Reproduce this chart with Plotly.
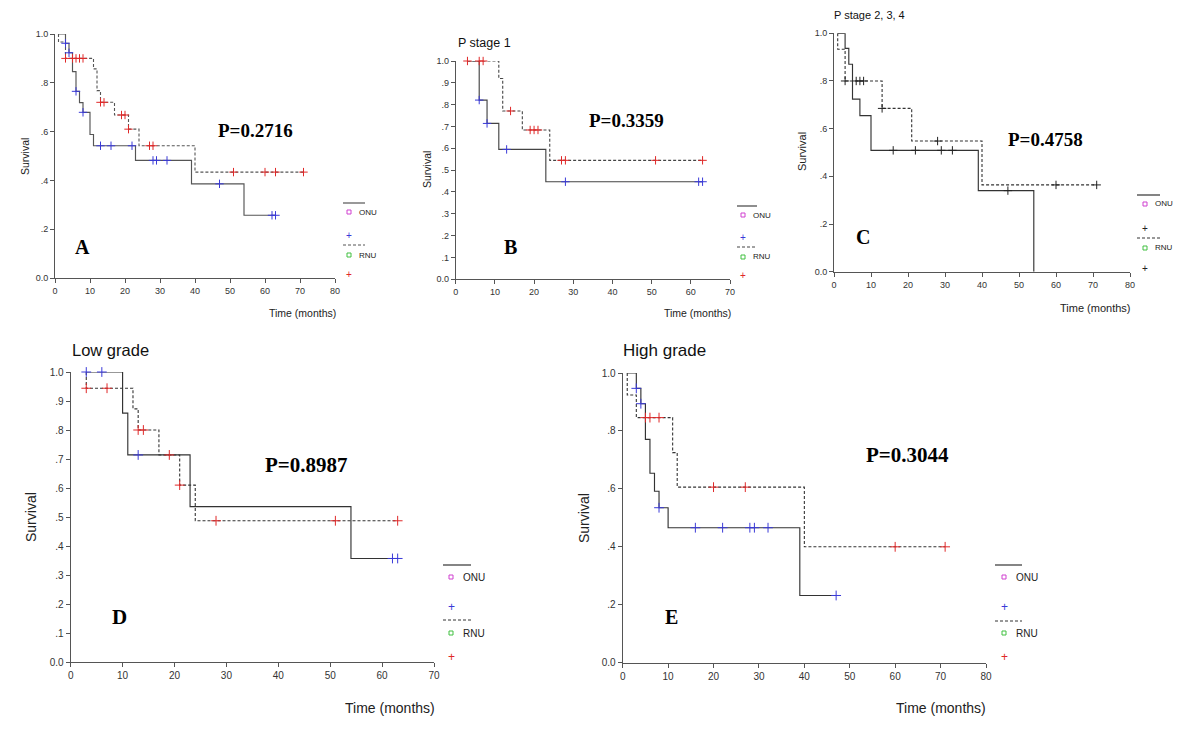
import plotly.graph_objects as go

# ---------------- data ----------------
# Step curves: x = start, event times..., end ; y = survival from x[i] onward
A_onu_x = [1, 3, 4, 5, 6, 7, 8, 10, 11, 23, 39, 54, 63]
A_onu_y = [1.0, 0.962, 0.923, 0.846, 0.765, 0.719, 0.679, 0.588, 0.542, 0.482, 0.386, 0.257, 0.257]
A_onu_cx = [3, 4, 6, 8, 13, 16, 22, 28, 29, 32, 47, 62, 63]
A_onu_cy = [0.962, 0.923, 0.765, 0.679, 0.542, 0.542, 0.542, 0.482, 0.482, 0.482, 0.386, 0.257, 0.257]
A_rnu_x = [1, 1, 3, 11, 12, 13, 17, 21, 24, 40, 71]
A_rnu_y = [1.0, 0.967, 0.90, 0.857, 0.768, 0.72, 0.668, 0.61, 0.542, 0.434, 0.434]
A_rnu_cx = [3, 5, 6, 7, 8, 13, 14, 19, 20, 21, 27, 28, 51, 60, 63, 71]
A_rnu_cy = [0.90, 0.90, 0.90, 0.90, 0.90, 0.72, 0.72, 0.668, 0.668, 0.61, 0.542, 0.542, 0.434, 0.434, 0.434, 0.434]

B_onu_x = [3, 6, 8, 11, 23, 63]
B_onu_y = [1.0, 0.821, 0.714, 0.595, 0.447, 0.447]
B_onu_cx = [6, 8, 13, 28, 62, 63]
B_onu_cy = [0.821, 0.714, 0.595, 0.447, 0.447, 0.447]
B_rnu_x = [3, 11, 12, 17, 24, 63]
B_rnu_y = [1.0, 0.92, 0.771, 0.684, 0.545, 0.545]
B_rnu_cx = [3, 6, 7, 14, 19, 20, 21, 27, 28, 51, 63]
B_rnu_cy = [1.0, 1.0, 1.0, 0.771, 0.684, 0.684, 0.684, 0.545, 0.545, 0.545, 0.545]

C_onu_x = [1, 3, 4, 5, 7, 10, 39, 54]
C_onu_y = [1.0, 0.937, 0.87, 0.724, 0.655, 0.509, 0.34, 0.0]
C_onu_cx = [16, 22, 29, 32, 47]
C_onu_cy = [0.509, 0.509, 0.509, 0.509, 0.34]
C_rnu_x = [1, 1, 3, 13, 21, 40, 71]
C_rnu_y = [1.0, 0.933, 0.80, 0.685, 0.548, 0.364, 0.364]
C_rnu_cx = [3, 6, 7, 8, 13, 28, 60, 71]
C_rnu_cy = [0.80, 0.80, 0.80, 0.80, 0.685, 0.548, 0.364, 0.364]

D_onu_x = [3, 10, 11, 23, 54, 63]
D_onu_y = [1.0, 0.858, 0.714, 0.536, 0.357, 0.357]
D_onu_cx = [3, 6, 13, 62, 63]
D_onu_cy = [1.0, 1.0, 0.714, 0.357, 0.357]
D_rnu_x = [3, 3, 12, 13, 17, 21, 24, 63]
D_rnu_y = [1.0, 0.944, 0.873, 0.80, 0.714, 0.61, 0.487, 0.487]
D_rnu_cx = [3, 7, 13, 14, 19, 21, 28, 51, 63]
D_rnu_cy = [0.944, 0.944, 0.80, 0.80, 0.714, 0.61, 0.487, 0.487, 0.487]

E_onu_x = [1, 3, 4, 5, 6, 7, 8, 10, 39, 47]
E_onu_y = [1.0, 0.947, 0.894, 0.771, 0.654, 0.592, 0.535, 0.466, 0.232, 0.232]
E_onu_cx = [3, 4, 8, 16, 22, 28, 29, 32, 47]
E_onu_cy = [0.947, 0.894, 0.535, 0.466, 0.466, 0.466, 0.466, 0.466, 0.232]
E_rnu_x = [1, 1, 3, 11, 12, 40, 71]
E_rnu_y = [1.0, 0.924, 0.846, 0.725, 0.606, 0.40, 0.40]
E_rnu_cx = [5, 6, 8, 20, 27, 60, 71]
E_rnu_cy = [0.846, 0.846, 0.846, 0.606, 0.606, 0.40, 0.40]

p_values = ["P=0.2716", "P=0.3359", "P=0.4758", "P=0.8987", "P=0.3044"]
panel_letters = ["A", "B", "C", "D", "E"]
panel_titles = ["", "P stage 1", "P stage 2, 3, 4", "Low grade", "High grade"]
group_names = ["ONU", "RNU"]
y_ticks_fifth = [0.0, 0.2, 0.4, 0.6, 0.8, 1.0]
y_ticks_tenth = [0.0, 0.1, 0.2, 0.3, 0.4, 0.5, 0.6, 0.7, 0.8, 0.9, 1.0]

def ylab(v):
    return "0.0" if v == 0 else ("1.0" if v == 1 else ("%.1f" % v)[1:])

# page has an 8px body margin; size the figure to fit the 1200x750 window
OFF = 8
W, H = 1200 - 2 * OFF, 750 - 2 * OFF
fx = lambda px: (px - OFF) / W
fy = lambda py: 1 - (py - OFF) / H

# ---------------- layout of each panel (window pixels) ----------------
panels = [
    dict(data=(A_onu_x, A_onu_y, A_onu_cx, A_onu_cy, A_rnu_x, A_rnu_y, A_rnu_cx, A_rnu_cy),
         x0=55, x1=335, ytop=34, ybot=278, xmax=80, yt=y_ticks_fifth, tf=9, lf=10.5,
         surv=(25, 157), time=(302, 313), p=(255, 130), ps=19, let=(82, 247), ls=20,
         title=None, ts=12, leg=dict(x0=343, x1=365, mx=349, tx=358, ys=[203, 212, 235, 245, 255, 274]), legf=8,
         cons=("#3a3ad8", "#e02828"), lc="#555555"),
    dict(data=(B_onu_x, B_onu_y, B_onu_cx, B_onu_cy, B_rnu_x, B_rnu_y, B_rnu_cx, B_rnu_cy),
         x0=455.7, x1=730, ytop=61, ybot=279.3, xmax=70, yt=y_ticks_tenth, tf=9, lf=10.5,
         surv=(427, 170), time=(697, 313), p=(626, 120), ps=19, let=(510, 247), ls=20,
         title=(457, 43), ts=12.5, leg=dict(x0=737, x1=757, mx=743, tx=752, ys=[206, 215, 237, 247, 257, 275]), legf=8,
         cons=("#3a3ad8", "#e02828"), lc="#444444"),
    dict(data=(C_onu_x, C_onu_y, C_onu_cx, C_onu_cy, C_rnu_x, C_rnu_y, C_rnu_cx, C_rnu_cy),
         x0=834, x1=1130, ytop=33.3, ybot=271.7, xmax=80, yt=y_ticks_fifth, tf=9, lf=11,
         surv=(802, 152), time=(1095, 308), p=(1045, 139), ps=19, let=(863, 237), ls=20,
         title=(833, 15), ts=11, leg=dict(x0=1137, x1=1160, mx=1145, tx=1154, ys=[195, 204, 228, 238, 248, 268]), legf=8,
         cons=("#222222", "#222222"), lc="#333333"),
    dict(data=(D_onu_x, D_onu_y, D_onu_cx, D_onu_cy, D_rnu_x, D_rnu_y, D_rnu_cx, D_rnu_cy),
         x0=70.7, x1=434, ytop=372, ybot=662, xmax=70, yt=y_ticks_tenth, tf=10, lf=14,
         surv=(31, 517), time=(390, 708), p=(306, 465), ps=21, let=(119, 617), ls=21,
         title=(71, 350), ts=16.5, leg=dict(x0=443, x1=471, mx=451, tx=462, ys=[565, 577, 607, 620, 633, 657]), legf=10,
         cons=("#3a3ad8", "#e02828"), lc="#333333"),
    dict(data=(E_onu_x, E_onu_y, E_onu_cx, E_onu_cy, E_rnu_x, E_rnu_y, E_rnu_cx, E_rnu_cy),
         x0=622.7, x1=986, ytop=373, ybot=662.7, xmax=80, yt=y_ticks_fifth, tf=10, lf=14,
         surv=(584, 518), time=(941, 708), p=(907, 455), ps=21, let=(671, 617), ls=20,
         title=(622, 350), ts=17, leg=dict(x0=995, x1=1022, mx=1004, tx=1015, ys=[565, 577, 607, 621, 633, 657]), legf=10,
         cons=("#3a3ad8", "#e02828"), lc="#333333"),
]

AX = "#555555"
SANS = "Liberation Sans"
SERIF = "Liberation Serif"

fig = go.Figure()
annotations = []
shapes = []
layout = {}

def note(px, py, text, font, xanchor="center", angle=0):
    annotations.append(dict(x=fx(px), y=fy(py), xref="paper", yref="paper", text=text, showarrow=False,
                            xanchor=xanchor, yanchor="middle", textangle=angle, font=font, borderpad=0))

for i, pnl in enumerate(panels):
    n = "" if i == 0 else str(i + 1)
    xa, ya = "x" + n, "y" + n
    ox, oy, ocx, ocy, rx, ry, rcx, rcy = pnl["data"]
    blue, red = pnl["cons"]
    LINE = pnl["lc"]
    fig.add_trace(go.Scatter(x=ox, y=oy, mode="lines", line=dict(color=LINE, width=1.15, shape="hv"),
                             xaxis=xa, yaxis=ya, showlegend=False, cliponaxis=False, hoverinfo="skip"))
    fig.add_trace(go.Scatter(x=rx, y=ry, mode="lines", line=dict(color=LINE, width=1.1, shape="hv", dash="3px,2px"),
                             xaxis=xa, yaxis=ya, showlegend=False, cliponaxis=False, hoverinfo="skip"))
    msz = 7 if pnl["tf"] >= 10 else 6
    fig.add_trace(go.Scatter(x=ocx, y=ocy, mode="markers",
                             marker=dict(symbol="cross-thin", size=msz, line=dict(color=blue, width=1)),
                             xaxis=xa, yaxis=ya, showlegend=False, cliponaxis=False))
    fig.add_trace(go.Scatter(x=rcx, y=rcy, mode="markers",
                             marker=dict(symbol="cross-thin", size=msz, line=dict(color=red, width=1)),
                             xaxis=xa, yaxis=ya, showlegend=False, cliponaxis=False))

    layout["xaxis" + n] = dict(domain=[fx(pnl["x0"]), fx(pnl["x1"])], range=[0, pnl["xmax"]], anchor=ya,
                               tickvals=list(range(0, pnl["xmax"] + 1, 10)), showgrid=False, zeroline=False,
                               showline=True, linecolor=AX, linewidth=1, ticks="outside", ticklen=4,
                               tickcolor=AX, automargin=False,
                               tickfont=dict(family=SANS, size=pnl["tf"], color="#333"))
    layout["yaxis" + n] = dict(domain=[fy(pnl["ybot"]), fy(pnl["ytop"])], range=[0, 1], anchor=xa,
                               tickvals=pnl["yt"], ticktext=[ylab(v) for v in pnl["yt"]], showgrid=False,
                               zeroline=False, showline=True, linecolor=AX, linewidth=1, ticks="outside",
                               ticklen=4, tickcolor=AX, automargin=False,
                               tickfont=dict(family=SANS, size=pnl["tf"], color="#333"))

    note(*pnl["surv"], "Survival", dict(family=SANS, size=pnl["lf"], color="#222"), angle=-90)
    note(*pnl["time"], "Time (months)", dict(family=SANS, size=pnl["lf"], color="#222"))
    note(*pnl["p"], "<b>%s</b>" % p_values[i], dict(family=SERIF, size=pnl["ps"], color="black"))
    note(*pnl["let"], "<b>%s</b>" % panel_letters[i], dict(family=SERIF, size=pnl["ls"], color="black"))
    if pnl["title"]:
        note(*pnl["title"], panel_titles[i], dict(family=SANS, size=pnl["ts"], color="#111"), xanchor="left")

    # legend (SPSS style)
    lg = pnl["leg"]
    ys = lg["ys"]
    shapes.append(dict(type="line", xref="paper", yref="paper", x0=fx(lg["x0"]), x1=fx(lg["x1"]),
                       y0=fy(ys[0]), y1=fy(ys[0]), line=dict(color=LINE, width=1.2)))
    shapes.append(dict(type="line", xref="paper", yref="paper", x0=fx(lg["x0"]), x1=fx(lg["x1"]),
                       y0=fy(ys[3]), y1=fy(ys[3]), line=dict(color=LINE, width=1, dash="3px,2px")))
    for yy, col in ((ys[1], "#d040d0"), (ys[4], "#40c040")):
        shapes.append(dict(type="rect", xref="paper", yref="paper", x0=fx(lg["mx"] - 2), x1=fx(lg["mx"] + 2),
                           y0=fy(yy + 2), y1=fy(yy - 2), line=dict(color=col, width=1)))
    for yy, name in ((ys[1], group_names[0]), (ys[4], group_names[1])):
        note(lg["tx"], yy, name, dict(family=SANS, size=pnl["legf"], color="#222"), xanchor="left")
    for yy, col in ((ys[2], blue), (ys[5], red)):
        note(lg["mx"], yy, "+", dict(family=SANS, size=pnl["legf"] + 2, color=col))

fig.update_layout(width=W, height=H, margin=dict(l=0, r=0, t=0, b=0, pad=0, autoexpand=False),
                  plot_bgcolor="white", paper_bgcolor="white", showlegend=False,
                  annotations=annotations, shapes=shapes, **layout)
fig.write_html("out.html")
